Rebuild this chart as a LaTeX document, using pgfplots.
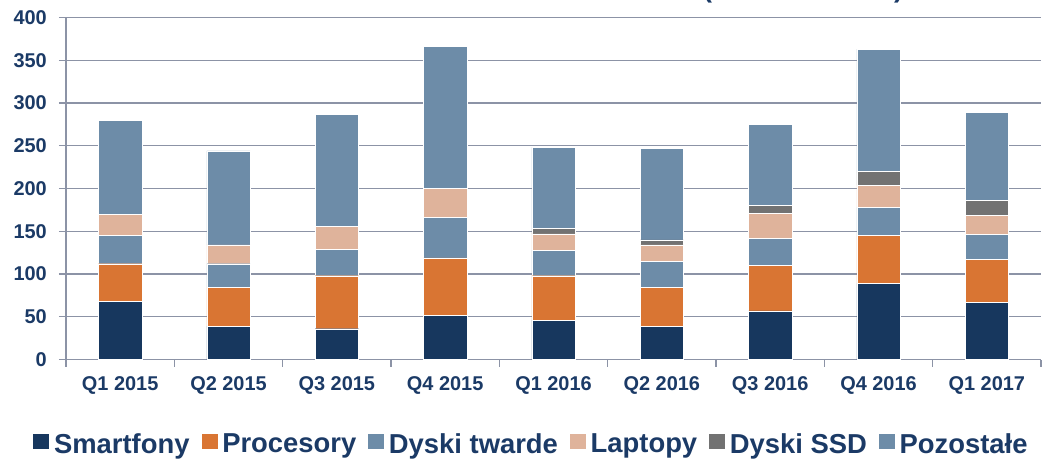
\documentclass[border=0pt]{standalone}
\usepackage{pgfplots}
\usepackage{pgfplotstable}
\pgfplotsset{compat=1.18}
\usepackage{fontspec}
\setmainfont{Liberation Sans}
\definecolor{navy}{HTML}{17375E}
\definecolor{orng}{HTML}{D97533}
\definecolor{steel}{HTML}{6D8CA8}
\definecolor{lap}{HTML}{DFB39B}
\definecolor{ssd}{HTML}{727272}
\definecolor{txt}{HTML}{1B3A66}
\definecolor{gridc}{HTML}{8C93A6}

\pgfplotstableread{
x smart proc hdd lap ssd other
0 68 44 33 25 0 110
1 39 45 28 22 0 110
2 36 62 31 27 0 131
3 52 67 47 34 0 166
4 46 52 30 19 6 95
5 39 45 31 19 6 107
6 57 53 32 29 9 95
7 89 56 33 26 16 143
8 67 50 29 23 17 103
}\data

\pgfplotsset{sq/.style={legend image code/.code={\fill[##1,draw=none] (0bp,-5bp) rectangle (16bp,10bp); \path (18.5bp,0bp);}}}

\begin{document}
\begin{tikzpicture}
\path[use as bounding box] (-66bp,-99.5bp) rectangle (977bp,359.5bp);
\begin{axis}[
  at={(0,0)}, anchor=south west,
  scale only axis, width=975bp, height=342bp,
  ybar stacked, bar width=0.4,
  xmin=-0.5, xmax=8.5, ymin=0, ymax=400,
  ytick={0,50,...,400},
  xtick={-0.5,0.5,...,8.5},
  xticklabels={},
  extra x ticks={0,1,2,3,4,5,6,7,8},
  extra x tick labels={Q1 2015,Q2 2015,Q3 2015,Q4 2015,Q1 2016,Q2 2016,Q3 2016,Q4 2016,Q1 2017},
  extra x tick style={major tick length=0pt, xticklabel style={anchor=base, yshift=-31bp}},
  axis x line*=bottom, axis y line*=left,
  axis line style={gridc, line width=1.3bp, -},
  ymajorgrids, major grid style={gridc, line width=1.3bp},
  tick align=outside, major tick length=7bp,
  tick style={gridc, line width=1.3bp},
  ticklabel style={font=\fontsize{20}{22}\selectfont\bfseries, text=txt},
  yticklabel style={inner sep=0pt, xshift=-12bp},
  /pgf/number format/assume math mode=true,
  legend style={at={(0.4774,-0.2855)}, anchor=south, draw=none, fill=none,
    legend columns=-1, font=\fontsize{27.5}{30}\selectfont\bfseries, text=txt,
    inner sep=0pt, /tikz/every even column/.append style={column sep=10bp}},
]
\addplot[fill=navy, draw=white, line width=0.4bp, sq] table[x=x,y=smart]{\data};
\addplot[fill=orng, draw=white, line width=0.4bp, sq] table[x=x,y=proc]{\data};
\addplot[fill=steel, draw=white, line width=0.4bp, sq] table[x=x,y=hdd]{\data};
\addplot[fill=lap, draw=white, line width=0.4bp, sq] table[x=x,y=lap]{\data};
\addplot[fill=ssd, draw=white, line width=0.4bp, sq] table[x=x,y=ssd]{\data};
\addplot[fill=steel, draw=white, line width=0.4bp, sq] table[x=x,y=other]{\data};
\legend{Smartfony,Procesory,Dyski twarde,Laptopy,Dyski SSD,Pozostałe}
\end{axis}
\node[anchor=base west, inner sep=0pt, font=\fontsize{27}{30}\selectfont\bfseries, text=txt] at (637bp,362.2bp) {(\hspace{182bp})};
\end{tikzpicture}
\end{document}
